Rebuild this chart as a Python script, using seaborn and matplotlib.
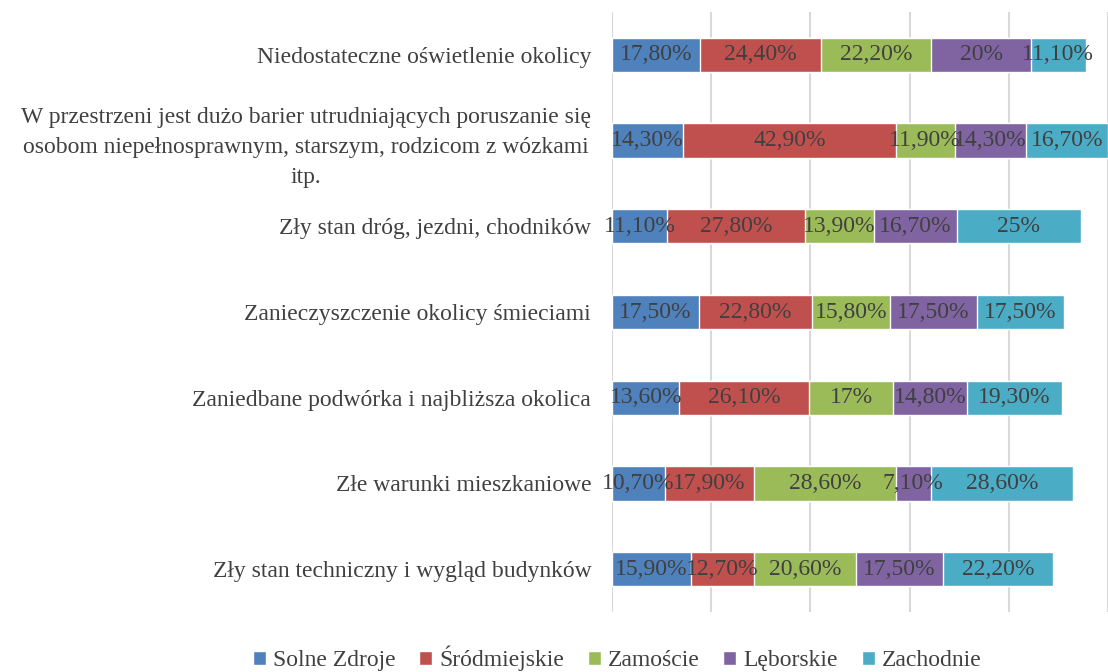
import matplotlib
matplotlib.use("Agg")
import matplotlib.pyplot as plt
from matplotlib.patches import Patch
import seaborn as sns
import pandas as pd
import numpy as np

# Dane
categories = [
    "Niedostateczne oświetlenie okolicy",
    "W przestrzeni jest dużo barier utrudniających poruszanie się\nosobom niepełnosprawnym, starszym, rodzicom z wózkami\nitp.",
    "Zły stan dróg, jezdni, chodników",
    "Zanieczyszczenie okolicy śmieciami",
    "Zaniedbane podwórka i najbliższa okolica",
    "Złe warunki mieszkaniowe",
    "Zły stan techniczny i wygląd budynków",
]
series = ["Solne Zdroje", "Śródmiejskie", "Zamoście", "Lęborskie", "Zachodnie"]
solne_zdroje = [17.8, 14.3, 11.1, 17.5, 13.6, 10.7, 15.9]
srodmiejskie = [24.4, 42.9, 27.8, 22.8, 26.1, 17.9, 12.7]
zamoscie = [22.2, 11.9, 13.9, 15.8, 17.0, 28.6, 20.6]
leborskie = [20.0, 14.3, 16.7, 17.5, 14.8, 7.1, 17.5]
zachodnie = [11.1, 16.7, 25.0, 17.5, 19.3, 28.6, 22.2]
colors = ["#4F81BD", "#C0504D", "#9BBB59", "#8064A2", "#4BACC6"]

df = pd.DataFrame(
    {"Solne Zdroje": solne_zdroje, "Śródmiejskie": srodmiejskie,
     "Zamoście": zamoscie, "Lęborskie": leborskie, "Zachodnie": zachodnie},
    index=categories,
)
cum = df.cumsum(axis=1)

sns.set_style("white")
plt.rcParams["font.family"] = ["Liberation Serif", "DejaVu Serif"]
text_color = "#404040"
fs = 17

fig = plt.figure(figsize=(11.08, 6.72), dpi=100)
ax = fig.add_axes([612 / 1108, 60 / 672, 496 / 1108, 600 / 672])

# stos: najpierw suma całkowita, potem kolejne mniejsze sumy na wierzchu
for s, c in reversed(list(zip(series, colors))):
    sns.barplot(x=cum[s].values, y=categories, orient="h", color=c,
                width=0.4, ax=ax, saturation=1, order=categories)

# etykiety wartości w środku segmentów
for i, cat in enumerate(categories):
    left = 0
    for s in series:
        v = df.loc[cat, s]
        txt = f"{v:.0f}%" if float(v).is_integer() else f"{v:.2f}%".replace(".", ",")
        ax.text(left + v / 2, i, txt, ha="center", va="center",
                fontsize=fs, color=text_color)
        left += v

ax.set_xlim(0, 99.2)
ax.set_ylim(6.5, -0.5)
ax.set_xticks([0, 20, 40, 60, 80, 100])
ax.set_xticklabels([])
ax.grid(axis="x", color="#d9d9d9", linewidth=1.5)
ax.set_axisbelow(True)
ax.tick_params(axis="both", length=0)
ax.tick_params(axis="y", labelsize=fs, labelcolor=text_color, pad=15)
for lab in ax.get_yticklabels():
    lab.set_multialignment("center")
    lab.set_linespacing(1.55)
for sp in ax.spines.values():
    sp.set_visible(False)
ax.set_xlabel("")
ax.set_ylabel("")

handles = [Patch(facecolor=c, label=s) for s, c in zip(series, colors)]
fig.legend(handles=handles, loc="center", bbox_to_anchor=(0.557, 0.02),
           ncol=5, frameon=False, fontsize=fs, labelcolor=text_color,
           handlelength=0.55, handleheight=0.55, handletextpad=0.3,
           columnspacing=1.0)

fig.savefig("out.png", dpi=100)
